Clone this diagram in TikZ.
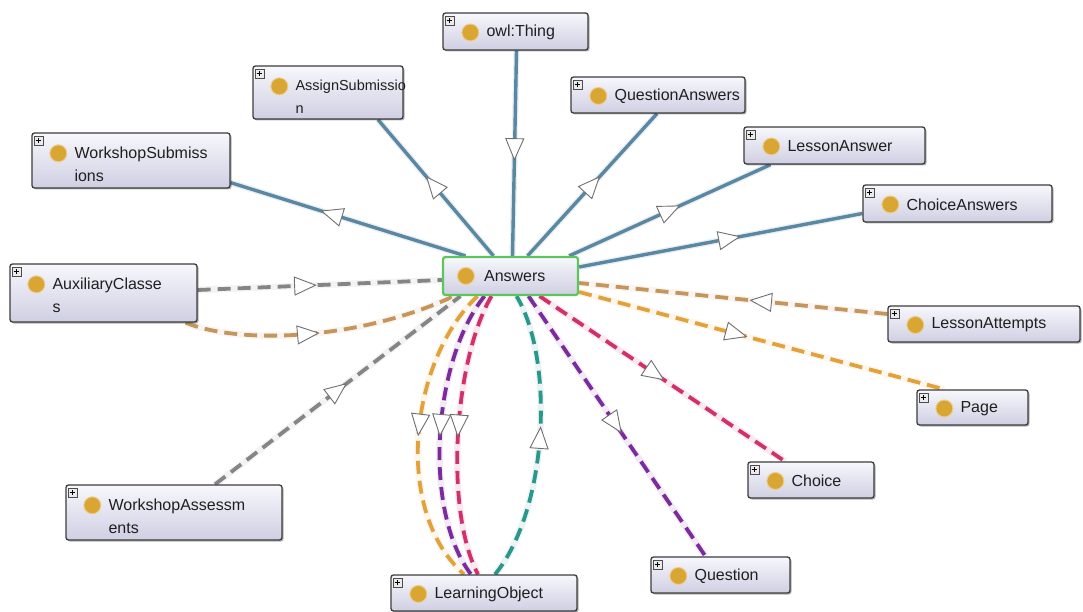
\documentclass[tikz,border=0pt]{standalone}
\usepackage{fontspec}
\setmainfont{Liberation Sans}
\usetikzlibrary{calc,shadows,decorations.markings,backgrounds}
\definecolor{cBlue}{HTML}{5A88A2}
\definecolor{cGray}{HTML}{858585}
\definecolor{cTan}{HTML}{C4965E}
\definecolor{cOrange}{HTML}{E3A13C}
\definecolor{cMag}{HTML}{D2306C}
\definecolor{cPur}{HTML}{7B2C9C}
\definecolor{cTeal}{HTML}{2B968C}
\definecolor{cGold}{HTML}{D9A533}
\definecolor{cGreen}{HTML}{5CC65C}
\definecolor{cBorder}{HTML}{3C3C3C}
\definecolor{cTop}{HTML}{F7F7FC}
\definecolor{cBot}{HTML}{CFCFE3}
\definecolor{cTri}{HTML}{707070}
\tikzset{
  clsbox/.style={draw=cBorder, line width=1.3pt, rounded corners=2.5pt,
    top color=cTop, bottom color=cBot, inner sep=0pt,
    drop shadow={shadow xshift=1.5pt, shadow yshift=-1.5pt, opacity=0.3, fill=black}},
  ansbox/.style={draw=cGreen, line width=2.2pt, rounded corners=2.5pt,
    top color=cTop, bottom color=cBot, inner sep=0pt},
  plusicon/.style={draw=black!70, fill=black!8, minimum size=9pt, inner sep=0pt, line width=0.6pt,
    path picture={\draw[black, line width=0.8pt]
      (path picture bounding box.center) +(-2.8pt,0pt) -- +(2.8pt,0pt)
      (path picture bounding box.center) +(0pt,-2.8pt) -- +(0pt,2.8pt);}},
  dot/.style={circle, fill=cGold, draw=cGold!55!white, line width=1pt, minimum size=17pt, inner sep=0pt},
  txt/.style={anchor=west, inner sep=0pt, font=\fontsize{16}{23}\selectfont, text=black!88},
  txttwo/.style={anchor=north west, inner sep=0pt, align=left, text=black!88},
  tri/.style={postaction={decorate, decoration={markings, mark=at position #1 with {
      \draw[solid, fill=white, draw=cTri, line width=0.9pt] (10.5pt,0pt) -- (-10.5pt,9pt) -- (-10.5pt,-9pt) -- cycle;}}}},
  solidE/.style={draw=#1, line width=3.4pt, preaction={draw=#1!14, line width=6pt}},
  dashE/.style={draw=#1, line width=3.8pt, dash pattern=on 13pt off 7pt, preaction={draw=#1!10, line width=6.5pt, solid}},
}
\newcommand\clsOne[6]{%
  \node[clsbox, minimum width=#4pt, minimum height=#5pt] (#1) at (#2,#3) {};
  \node[plusicon] (#1-p) at ($(#1.north west)+(7,8)$) {};
  \node[dot] (#1-d) at ($(#1.west)+(28,1)$) {};
  \node[txt] (#1-t) at ($(#1.west)+(44,1)$) {#6};
}
\newcommand\clsTwo[7][16]{%
  \node[clsbox, minimum width=#5pt, minimum height=#6pt] (#2) at (#3,#4) {};
  \node[plusicon] (#2-p) at ($(#2.north west)+(7,8)$) {};
  \node[dot] (#2-d) at ($(#2.north west)+(27,21)$) {};
  \node[txttwo, font=\fontsize{#1}{23}\selectfont] (#2-t) at ($(#2.north west)+(43,14)$) {#7};
}
\begin{document}
\begin{tikzpicture}[x=1pt, y=-1pt]
\useasboundingbox (0,0) rectangle (1083,612);

% nodes
\clsOne{owl}{515.5}{31.5}{145}{37}{owl:Thing}
\clsTwo[14.5]{assign}{328}{92.5}{150}{53}{AssignSubmissio\\n}
\clsOne{qa}{658}{95}{174}{36}{QuestionAnswers}
\clsTwo{ws}{131}{160.5}{198}{55}{WorkshopSubmiss\\ions}
\clsOne{la}{834.5}{145.5}{181}{37}{LessonAnswer}
\clsOne{ca}{957.5}{203.5}{189}{37}{ChoiceAnswers}
\clsTwo{aux}{103.5}{293}{187}{58}{AuxiliaryClasse\\s}
\clsOne{lat}{984}{324}{192}{36}{LessonAttempts}
\clsOne{page}{972.5}{407.5}{111}{35}{Page}
\clsOne{choice}{811}{480}{126}{36}{Choice}
\clsTwo{wa}{174}{512.5}{216}{55}{WorkshopAssessm\\ents}
\clsOne{question}{720.5}{575}{139}{36}{Question}
\clsOne{lo}{484}{593}{186}{36}{LearningObject}
\node[ansbox, minimum width=135pt, minimum height=38pt] (ans) at (510.5,276) {};
\node[dot] (ans-d) at ($(ans.west)+(24,0)$) {};
\node[txt] (ans-t) at ($(ans.west)+(42,0)$) {Answers};

\begin{scope}[on background layer]
\fill[white] (0,0) rectangle (1083,612);
% subclass-of edges (solid blue)
\draw[solidE=cBlue, tri=0.48] ($(owl.south)+(1,0)$) -- ($(ans.north)+(2,0)$);
\draw[solidE=cBlue, tri=0.52] ($(ans.north)+(-17,0)$) -- ($(assign.south)+(50,0)$);
\draw[solidE=cBlue, tri=0.5] ($(ans.north)+(17,0)$) -- ($(qa.south)+(-1,0)$);
\draw[solidE=cBlue, tri=0.57] ($(ans.north)+(-45,0)$) -- ($(ws.south east)+(0,-6)$);
\draw[solidE=cBlue, tri=0.5] ($(ans.north east)+(-10,0)$) -- ($(la.south)+(-64,0)$);
\draw[solidE=cBlue, tri=0.53] ($(ans.east)+(0,-9)$) -- ($(ca.west)+(0,10)$);

% property edges (dashed)
\draw[dashE=cGray, tri=0.44] ($(aux.east)+(0,-3)$) -- ($(ans.west)+(0,4)$);
\draw[dashE=cTan, tri=0.45] ($(aux.south east)+(-12,0)$) .. controls (240,345) and (360,340) .. ($(ans.south west)+(12,0)$);
\draw[dashE=cGray, tri=0.5] ($(wa.north)+(41,0)$) -- ($(ans.south)+(-50,0)$);
\draw[dashE=cTan, tri=0.41] ($(lat.west)+(0,-10)$) -- ($(ans.east)+(0,7)$);
\draw[dashE=cOrange, tri=0.43] ($(ans.east)+(0,16)$) -- ($(page.north west)+(28,0)$);
\draw[dashE=cMag, tri=0.47] ($(ans.south)+(29,0)$) -- ($(choice.north)+(-26,0)$);
\draw[dashE=cPur, tri=0.49] ($(ans.south)+(18,0)$) -- ($(question.north)+(-15,0)$);
\draw[dashE=cOrange, tri=0.47] ($(ans.south)+(-33,0)$) .. controls (410,360) and (392,510) .. ($(lo.north)+(-20,0)$);
\draw[dashE=cPur, tri=0.47] ($(ans.south)+(-26,0)$) .. controls (433,360) and (422,510) .. ($(lo.north)+(-13,0)$);
\draw[dashE=cMag, tri=0.47] ($(ans.south)+(-19,0)$) .. controls (454,360) and (444,510) .. ($(lo.north)+(-6,0)$);
\draw[dashE=cTeal, tri=0.5] ($(lo.north)+(11,0)$) .. controls (548,510) and (555,360) .. ($(ans.south)+(6,0)$);
\end{scope}
\end{tikzpicture}
\end{document}
